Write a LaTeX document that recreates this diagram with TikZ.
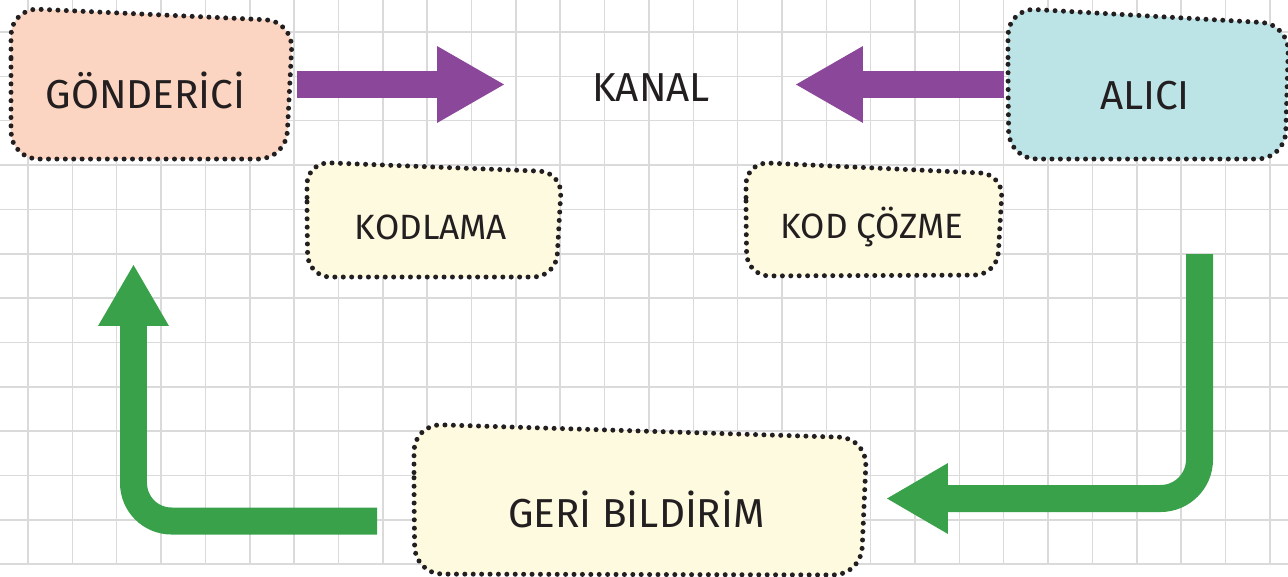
\documentclass[tikz,border=0pt]{standalone}
\usepackage{fontspec}
\setmainfont{Fira Sans}
\usetikzlibrary{arrows.meta}

\definecolor{somon}{RGB}{251,213,193}
\definecolor{turkuaz}{RGB}{188,227,230}
\definecolor{krem}{RGB}{254,250,224}
\definecolor{mor}{RGB}{139,71,153}
\definecolor{yesil}{RGB}{56,161,73}
\definecolor{izgara}{RGB}{218,218,218}
\definecolor{koyu}{RGB}{35,31,32}

\begin{document}
\begin{tikzpicture}[x=0.02cm, y=-0.02cm,
    cizgi/.style={draw=izgara, line width=0.03cm},
    kutu/.style={draw=koyu, line width=0.1cm, line cap=round, dash pattern=on 0pt off 0.168cm, rounded corners=0.55cm},
    kucukkutu/.style={kutu, rounded corners=0.45cm},
    yazi/.style={text=koyu, anchor=base, inner sep=0pt, font=\fontsize{23}{27}\selectfont},
    kucukyazi/.style={yazi, font=\fontsize{20}{24}\selectfont},
    morok/.style={draw=mor, line width=0.54cm, -{Triangle[length=1.34cm, width=1.54cm, line width=0pt]}},
    yesilok/.style={draw=yesil, line width=0.54cm, -{Triangle[length=1.22cm, width=1.42cm, line width=0pt]}}]
    \useasboundingbox (0,0) rectangle (1288,576);

    % grid
    \foreach \i in {0,...,28}
        \draw[cizgi] ({28+44.35*\i},0) -- ({28+44.35*\i},564);
    \foreach \j in {0,...,12}
        \draw[cizgi] (0,{32+44.35*\j}) -- (1288,{32+44.35*\j});

    % boxes
    \filldraw[kutu, fill=somon] (11,85) -- (11,8) -- (293,21) -- (286,159) -- (11,159) -- cycle;
    \filldraw[kutu, fill=turkuaz] (1008,85) -- (1008,8) -- (1289,24) -- (1285,159) -- (1009,159) -- cycle;
    \filldraw[kucukkutu, fill=krem] (307,220) -- (307,162) -- (562,172) -- (556,277) -- (308,277) -- cycle;
    \filldraw[kucukkutu, fill=krem] (746,220) -- (746,162) -- (1003,174) -- (997,275) -- (747,276) -- cycle;
    \filldraw[kutu, fill=krem] (414,500) -- (414,424) -- (867,438) -- (861,575) -- (415,574) -- cycle;

    \node[yazi] (gonderici) at (145.5,108) {GÖNDERİCİ};
    \node[yazi] (kanal) at (651,101) {KANAL};
    \node[yazi] (alici) at (1145,109) {ALICI};
    \node[kucukyazi] (kodlama) at (431,239) {KODLAMA};
    \node[kucukyazi] (kodcozme) at (872,238) {KOD ÇÖZME};
    \node[yazi] (geri) at (636.5,527) {GERİ BİLDİRİM};

    % arrow ends
    \coordinate (gondericikis) at (297,84.5);
    \coordinate (kanalsol) at (504,84.5);
    \coordinate (kanalsag) at (796,84.5);
    \coordinate (alicikis) at (1004,84.5);
    \coordinate (alicialt) at (1199.5,254);
    \coordinate (gerisag) at (887,498.5);
    \coordinate (gerisol) at (377,521);
    \coordinate (gondericialt) at (133.5,265);

    \draw[morok] (gondericikis) -- (kanalsol);
    \draw[morok] (alicikis) -- (kanalsag);
    \draw[yesilok, rounded corners=0.78cm] (alicialt) |- (gerisag);
    \draw[yesilok, rounded corners=0.76cm] (gerisol) -| (gondericialt);
\end{tikzpicture}
\end{document}
